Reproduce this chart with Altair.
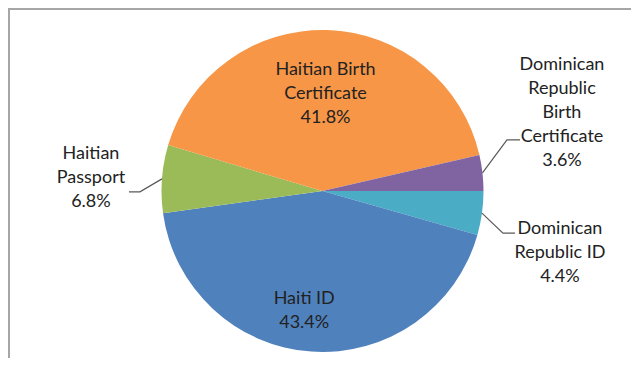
import math
import pandas as pd
import altair as alt

# ---- data ----
categories = [
    "Dominican Republic ID",
    "Haiti ID",
    "Haitian Passport",
    "Haitian Birth Certificate",
    "Dominican Republic Birth Certificate",
]
values = [4.4, 43.4, 6.8, 41.8, 3.6]
colors = ["#4BACC6", "#4F81BD", "#9BBB59", "#F79646", "#8064A2"]
wrapped_names = [
    "Dominican\nRepublic ID",
    "Haiti ID",
    "Haitian\nPassport",
    "Haitian Birth\nCertificate",
    "Dominican\nRepublic\nBirth\nCertificate",
]

# ---- layout ----
W, H = 623, 350
CX, CY = 314.5, 183.0
R = 161
LH = 24
START_DEG = 90.0
# label placement: ("in", radius_fraction, dx, dy) or ("out", text_dx, text_dy, elbow_dx, elbow_dy, end_dx)
placement = [
    ("out", 78, 40, 21, 20, 12),
    ("in", 0.745, -10, 0),
    ("out", -71, -0.5, -22, 13, -11),
    ("in", 0.6, 0, 0),
    ("out", 79.5, -60, 24.5, -33, 13),
]

total = sum(values)
rows, label_rows, leader_rows = [], [], []
cum = 0.0
for i, (cat, v) in enumerate(zip(categories, values)):
    a0 = START_DEG + 360 * cum / total
    cum += v
    a1 = START_DEG + 360 * cum / total
    mid = math.radians((a0 + a1) / 2)
    sx, sy = math.sin(mid), -math.cos(mid)
    rows.append({"category": cat, "value": v, "order": i})
    text = f"{wrapped_names[i]}\n{v:.1f}%"
    n_lines = text.count("\n") + 1
    p = placement[i]
    if p[0] == "in":
        lx = CX + p[1] * R * sx + p[2]
        ly = CY + p[1] * R * sy + p[3]
    else:
        ex, ey = CX + R * sx, CY + R * sy
        lx, ly = ex + p[1], ey + p[2]
        elx, ely = ex + p[3], ey + p[4]
        leader_rows += [
            {"label": cat, "seq": 0, "x": ex, "y": ey},
            {"label": cat, "seq": 1, "x": elx, "y": ely},
            {"label": cat, "seq": 2, "x": elx + p[5], "y": ely},
        ]
    # first line's position so the block is centred on (lx, ly)
    label_rows.append({"category": cat, "text": text, "x": lx, "y": ly - (n_lines - 1) * LH / 2})

df = pd.DataFrame(rows)
df_labels = pd.DataFrame(label_rows)
df_leaders = pd.DataFrame(leader_rows)

frame = alt.Chart(pd.DataFrame({"k": [0]})).mark_rect(
    filled=False, stroke="#a6a6a6", strokeWidth=2
).encode(x=alt.value(1), y=alt.value(1), x2=alt.value(3000), y2=alt.value(3000))

arc = alt.Chart(df).mark_arc(radius=R).encode(
    theta=alt.Theta(
        "value:Q",
        stack=True,
        scale=alt.Scale(range=[math.radians(START_DEG), math.radians(START_DEG) + 2 * math.pi]),
    ),
    color=alt.Color("category:N", scale=alt.Scale(domain=categories, range=colors), legend=None),
    order=alt.Order("order:Q"),
    x=alt.value(CX),
    y=alt.value(CY),
)

leaders = alt.Chart(df_leaders).mark_line(color="#595959", strokeWidth=1.2).encode(
    x=alt.X("x:Q", scale=None),
    y=alt.Y("y:Q", scale=None),
    detail="label:N",
    order="seq:Q",
)

labels = alt.Chart(df_labels).mark_text(
    font="Lato", fontSize=18, lineHeight=LH, color="#222222",
    lineBreak="\n", align="center", baseline="middle",
).encode(
    x=alt.X("x:Q", scale=None),
    y=alt.Y("y:Q", scale=None),
    text="text:N",
)

chart = alt.layer(frame, arc, leaders, labels).properties(
    width=W, height=H, autosize=alt.AutoSizeParams(type="none"), padding=0
).configure_view(stroke=None)

chart.save("out.html", embed_options={"renderer": "svg", "actions": False})
